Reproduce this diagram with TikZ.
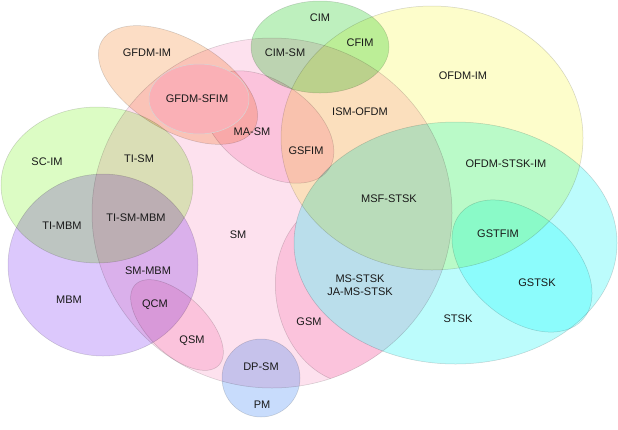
\documentclass[tikz,border=0pt]{standalone}
\usepackage{fontspec}
\setmainfont{Liberation Sans}
\definecolor{cSM}{RGB}{253,225,238}
\definecolor{cMASM}{RGB}{253,222,236}
\definecolor{cGFDM}{RGB}{252,221,197}
\definecolor{cSFIM}{RGB}{250,176,182}
\definecolor{cCIM}{RGB}{190,240,190}
\definecolor{cOFDM}{RGB}{253,253,203}
\definecolor{cSTSK}{RGB}{188,252,252}
\definecolor{cGSTSK}{RGB}{190,255,255}
\definecolor{cSCIM}{RGB}{220,252,196}
\definecolor{cMBM}{RGB}{220,200,252}
\definecolor{cPM}{RGB}{200,220,252}
\definecolor{cText}{RGB}{25,25,25}
\tikzset{
  setfill/.style={fill=#1, draw=black!16, line width=0.5pt, blend mode=multiply},
  solidset/.style={fill=#1, draw=black!16, line width=0.5pt},
  lbl/.style={font=\fontsize{11}{13.5}\selectfont, text=cText, inner sep=0pt, align=center},
}
\begin{document}
\begin{tikzpicture}[x=1pt,y=-1pt]
\fill[white] (0,0) rectangle (618,429);
\useasboundingbox (0,0) rectangle (618,429);
% big sets
\path[setfill=cSM] (272,213) ellipse[x radius=180, y radius=175];
\path[setfill=cOFDM] (432,138) ellipse[x radius=151, y radius=132];
\path[setfill=cSTSK] (455.5,243) ellipse[x radius=161.5, y radius=121];
\path[setfill=cCIM] (320,47) ellipse[x radius=69, y radius=46];
\path[setfill=cGFDM, rotate around={-30:(178,85)}] (178,85) ellipse[x radius=88, y radius=46];
\path[setfill=cMASM, rotate around={-35:(268,127)}] (268,127) ellipse[x radius=74, y radius=45];
\path[setfill=cSCIM] (97,185) ellipse[x radius=96, y radius=78];
\path[setfill=cMBM] (103,265) ellipse[x radius=95, y radius=91];
\path[setfill=cMASM, rotate around={-44:(177,325)}] (177,325) ellipse[x radius=58, y radius=29];
\path[setfill=cPM] (261,378) circle[radius=39];
\path[setfill=cGSTSK, rotate around={-41:(522,266)}] (522,266) ellipse[x radius=81, y radius=52];
% GSM: inside SM, outside STSK
\begin{scope}
\clip (272,213) ellipse[x radius=180, y radius=175];
\clip (0,0) -- (0,429) -- (618,429) -- (618,0) -- cycle
  plot[domain=0:360, samples=180, variable=\t] ({455.5+161.5*cos(\t)},{243+121*sin(\t)}) -- cycle;
\path[setfill=cMASM, rotate around={10:(348,292)}] (348,292) ellipse[x radius=72, y radius=92];
\end{scope}
% GFDM-SFIM
\path[solidset=cSFIM] (199,99) ellipse[x radius=50, y radius=35];
% labels
\node[lbl] (cim) at (320,18) {CIM};
\node[lbl] (cimsm) at (285,53) {CIM-SM};
\node[lbl] (cfim) at (360,43) {CFIM};
\node[lbl] (gfdmim) at (147,53) {GFDM-IM};
\node[lbl] (gfdmsfim) at (197,99) {GFDM-SFIM};
\node[lbl] (masm) at (252,132) {MA-SM};
\node[lbl] (ofdmim) at (463,76) {OFDM-IM};
\node[lbl] (ismofdm) at (360,112) {ISM-OFDM};
\node[lbl] (gsfim) at (306,151) {GSFIM};
\node[lbl] (scim) at (47,162) {SC-IM};
\node[lbl] (tism) at (139,159) {TI-SM};
\node[lbl] (ofdmstskim) at (506,164) {OFDM-STSK-IM};
\node[lbl] (msfstsk) at (389,199) {MSF-STSK};
\node[lbl] (timbm) at (62,226) {TI-MBM};
\node[lbl] (tismmbm) at (136,218) {TI-SM-MBM};
\node[lbl] (sm) at (238,235) {SM};
\node[lbl] (gstfim) at (498,234) {GSTFIM};
\node[lbl] (smmbm) at (148,271) {SM-MBM};
\node[lbl] (gstsk) at (537,283) {GSTSK};
\node[lbl] (msstsk) at (360,285) {MS-STSK\\JA-MS-STSK};
\node[lbl] (mbm) at (69,300) {MBM};
\node[lbl] (qcm) at (155,305) {QCM};
\node[lbl] (gsm) at (309,322) {GSM};
\node[lbl] (stsk) at (458,319) {STSK};
\node[lbl] (qsm) at (192,341) {QSM};
\node[lbl] (dpsm) at (261,367) {DP-SM};
\node[lbl] (pm) at (262,405) {PM};
\end{tikzpicture}
\end{document}
